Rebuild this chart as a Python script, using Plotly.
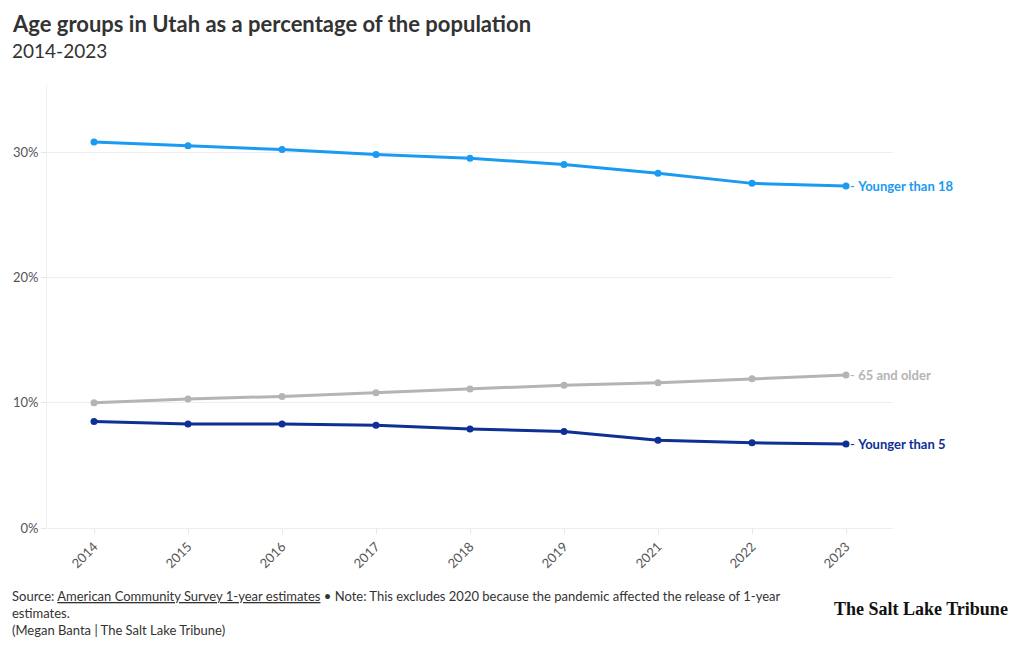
import plotly.graph_objects as go

years = ["2014", "2015", "2016", "2017", "2018", "2019", "2021", "2022", "2023"]
under18 = [30.8, 30.5, 30.2, 29.8, 29.5, 29.0, 28.3, 27.5, 27.3]
over65 = [10.0, 10.3, 10.5, 10.8, 11.1, 11.4, 11.6, 11.9, 12.2]
under5 = [8.5, 8.3, 8.3, 8.2, 7.9, 7.7, 7.0, 6.8, 6.7]

series = [
    ("Younger than 18", under18, "#1b9af2"),
    ("65 and older", over65, "#b4b4b4"),
    ("Younger than 5", under5, "#0e2f94"),
]

FONT = "Lato"
PW, PH, L, T = 846, 443, 47, 85

fig = go.Figure()
annots = []
for name, vals, col in series:
    fig.add_trace(go.Scatter(
        x=years, y=vals, mode="lines+markers", name=name,
        line=dict(color=col, width=3),
        marker=dict(color=col, size=7),
        hovertemplate="%{x}: %{y:.1f}%<extra>" + name + "</extra>",
        cliponaxis=False,
    ))
    annots.append(dict(
        x=len(years) - 1, y=vals[-1], xref="x", yref="y",
        text="- <b>" + name + "</b>", showarrow=False,
        xanchor="left", yanchor="middle", xshift=2,
        font=dict(family=FONT, size=13, color=col),
    ))

annots += [
    dict(text="<b>Age groups in Utah as a percentage of the population</b>",
         xref="paper", yref="paper", x=(10 - L) / PW, y=1 + (T - 23) / PH,
         xanchor="left", yanchor="middle", showarrow=False,
         font=dict(family=FONT, size=22, color="#333333")),
    dict(text="2014-2023",
         xref="paper", yref="paper", x=(10 - L) / PW, y=1 + (T - 50) / PH,
         xanchor="left", yanchor="middle", showarrow=False,
         font=dict(family=FONT, size=19, color="#333333")),
    dict(text="Source: <u>American Community Survey 1-year estimates</u> • Note: This excludes 2020 because the pandemic affected the release of 1-year<br>estimates.<br>(Megan Banta | The Salt Lake Tribune)",
         xref="paper", yref="paper", x=(10 - L) / PW, y=-(586 - 528) / PH,
         xanchor="left", yanchor="top", align="left", showarrow=False,
         font=dict(family=FONT, size=13, color="#333333")),
    dict(text="<b>The Salt Lake Tribune</b>",
         xref="paper", yref="paper", x=(1010 - L) / PW, y=-(609 - 528) / PH,
         xanchor="right", yanchor="middle", showarrow=False,
         font=dict(family="Liberation Serif", size=18, color="#111111")),
]

fig.update_layout(
    width=1020, height=650,
    margin=dict(l=L, r=1020 - L - PW, t=T, b=650 - T - PH),
    paper_bgcolor="white", plot_bgcolor="white",
    showlegend=False,
    font=dict(family=FONT, size=13, color="#555555"),
    xaxis=dict(
        type="category", range=[-0.5, 8.5], tickangle=-45,
        showgrid=False, showline=True, linecolor="#eeeeee", linewidth=1,
        ticks="outside", ticklen=5, tickcolor="#e6e6e6",
        tickfont=dict(size=13, color="#555555"), automargin=False,
    ),
    yaxis=dict(
        range=[0, 35.35], tickvals=[0, 10, 20, 30],
        ticktext=["0%", "10%", "20%", "30%"],
        showgrid=True, gridcolor="#eeeeee", gridwidth=1,
        zeroline=True, zerolinecolor="#eeeeee",
        showline=True, linecolor="#eeeeee",
        ticks="outside", ticklen=5, tickcolor="#e6e6e6",
        tickfont=dict(size=13, color="#555555"), automargin=False,
    ),
    annotations=annots,
)

fig.write_html("out.html", config={"displayModeBar": False},
               post_script="document.body.style.margin='0';")
